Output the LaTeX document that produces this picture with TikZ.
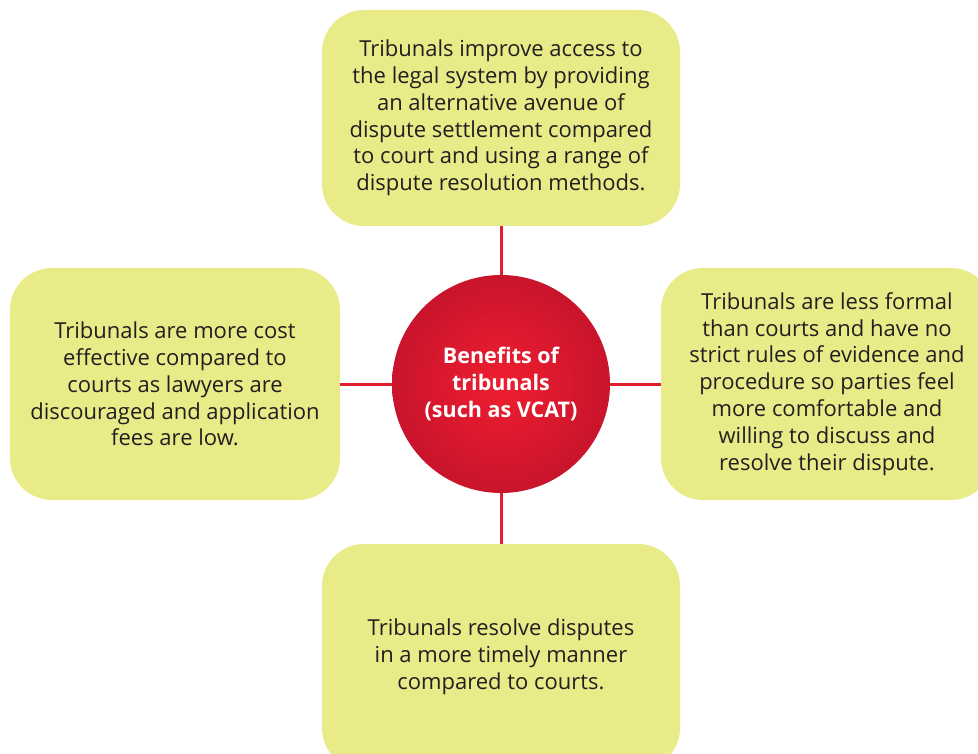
\documentclass[tikz,border=0pt]{standalone}
\usepackage{fontspec}
\setmainfont{Open Sans}
\definecolor{boxfill}{HTML}{E8EB88}
\definecolor{txt}{HTML}{231F20}
\definecolor{linkred}{HTML}{E31E2D}
\definecolor{redin}{HTML}{F01E30}
\definecolor{redout}{HTML}{C8142C}
\tikzset{
  infobox/.style={rectangle, rounded corners=42pt, fill=boxfill, draw=none,
    inner sep=0pt, text=txt, align=center,
    font=\fontsize{22}{26.8}\selectfont},
  hub/.style={circle, minimum size=218pt, inner sep=0pt, draw=none,
    inner color=redin, outer color=redout, text=white, align=center,
    font=\fontsize{21.5}{26.8}\selectfont\bfseries},
  link/.style={draw=linkred, line width=3pt}
}
\begin{document}
\begin{tikzpicture}[x=1pt,y=-1pt]
\useasboundingbox (0,0) rectangle (978,754);
\clip (0,0) rectangle (978,754);
\node[infobox, minimum width=358pt, minimum height=216pt] (top) at (501,118)
  {Tribunals improve access to\\the legal system by providing\\an alternative avenue of\\dispute settlement compared\\to court and using a range of\\dispute resolution methods.};
\node[infobox, minimum width=330pt, minimum height=232pt] (left) at (175,384)
  {Tribunals are more cost\\effective compared to\\courts as lawyers are\\discouraged and application\\fees are low.};
\node[infobox, minimum width=332pt, minimum height=232pt] (right) at (827,384)
  {Tribunals are less formal\\than courts and have no\\strict rules of evidence and\\procedure so parties feel\\more comfortable and\\willing to discuss and\\resolve their dispute.};
\node[infobox, minimum width=358pt, minimum height=226pt] (bottom) at (501,657)
  {Tribunals resolve disputes\\in a more timely manner\\compared to courts.};
\node[hub] (hub) at (501,384) {Benefits of\\tribunals\\(such as VCAT)};
\draw[link] (hub.north) -- (top.south);
\draw[link] (hub.south) -- (bottom.north);
\draw[link] (hub.west) -- (left.east);
\draw[link] (hub.east) -- (right.west);
\end{tikzpicture}
\end{document}
